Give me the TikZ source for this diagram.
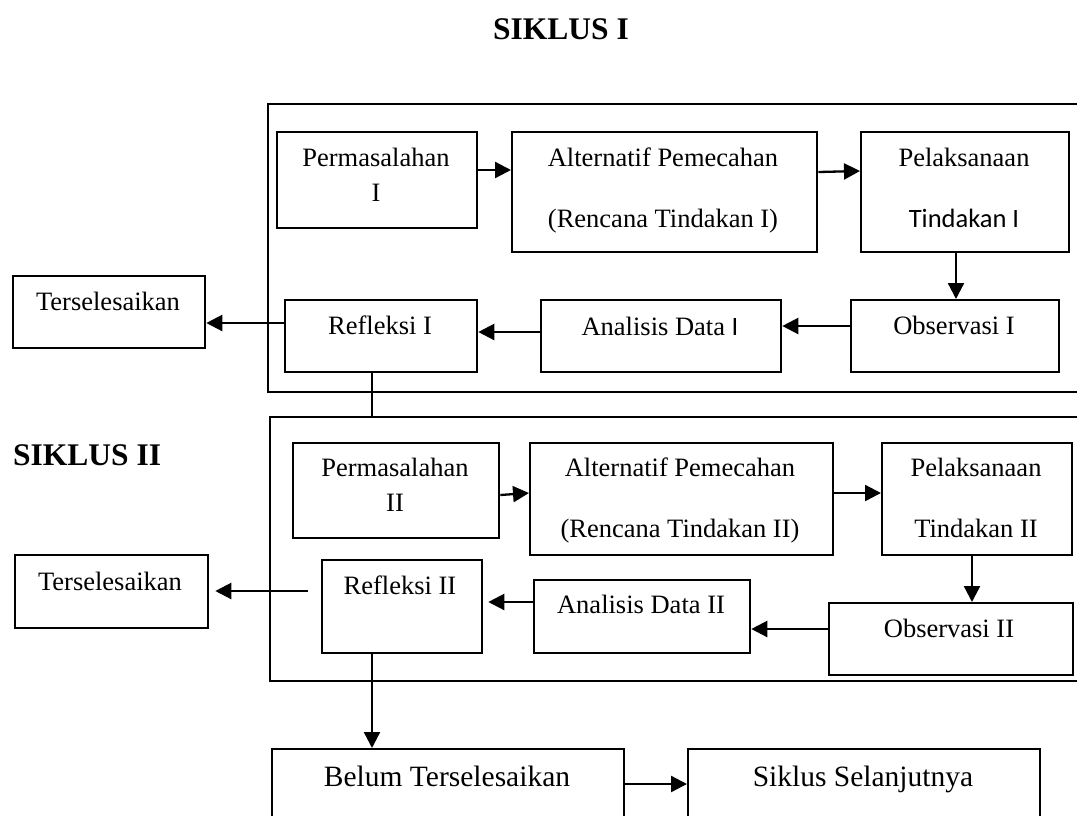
\documentclass[tikz,border=0pt]{standalone}
\usepackage{fontspec}
\setmainfont{Liberation Serif}
\newfontfamily\calibrifont{Carlito}
\usetikzlibrary{arrows.meta}

\tikzset{
  box/.style={draw, line width=2.3pt, inner sep=0pt, anchor=north west},
  txt/.style={inner sep=0pt, anchor=base, align=center, font=\fontsize{26.5}{35}\selectfont},
  bigtxt/.style={txt, font=\fontsize{29.5}{35}\selectfont},
  heading/.style={inner sep=0pt, anchor=base, font=\fontsize{31.5}{38}\selectfont\bfseries},
  link/.style={line width=2.3pt, ->},
}

\begin{document}
\begin{tikzpicture}[x=1pt, y=-1pt, >={Triangle[length=16pt,width=16pt]}]
   \useasboundingbox (0,0) rectangle (1077,815);

   % siklus I
   \node[heading] (head1) at (561,39) {SIKLUS I};
   \draw[line width=2.3pt] (1080,104) -- (268,104) -- (268,392) -- (1080,392);

   \node[box, minimum width=200, minimum height=96] (perm1) at (276,131) {};
   \node[box, minimum width=305, minimum height=120] (alt1) at (511,131) {};
   \node[box, minimum width=208, minimum height=120] (pel1) at (860,131) {};
   \node[box, minimum width=192, minimum height=72] (tsl1) at (12,275) {};
   \node[box, minimum width=192, minimum height=72] (refl1) at (284,299) {};
   \node[box, minimum width=240, minimum height=72] (ana1) at (540,299) {};
   \node[box, minimum width=208, minimum height=72] (obs1) at (850,299) {};

   % base = last line
   \node[txt] (perm1-t) at (376,201) {Permasalahan\\I};
   \node[txt] (alt1-t) at (663,227) {Alternatif Pemecahan\\[26pt](Rencana Tindakan I)};
   \node[txt] (pel1-t) at (964,227) {Pelaksanaan\\[26pt]{\calibrifont Tindakan I}};
   \node[txt] (tsl1-t) at (108,310) {Terselesaikan};
   \node[txt] (refl1-t) at (380,334) {Refleksi I};
   \node[txt] (ana1-t) at (660,335) {Analisis Data {\calibrifont I}};
   \node[txt] (obs1-t) at (954,334) {Observasi I};

   \draw[link] (perm1.east |- 0,170) -- (alt1.west |- 0,170);
   \draw[link] (alt1.east |- 0,172) -- (pel1.west |- 0,171);
   \draw[link] (pel1.south -| 956,0) -- (obs1.north -| 956,0);
   \draw[link] (obs1.west |- 0,326) -- (ana1.east |- 0,326);
   \draw[link] (ana1.west |- 0,332) -- (refl1.east |- 0,332);
   \draw[link] (refl1.west |- 0,323) -- (tsl1.east |- 0,323);

   % siklus II
   \node[heading, anchor=base west] (head2) at (13,465) {SIKLUS II};
   \draw[line width=2.3pt] (1080,417) -- (270,417) -- (270,681) -- (1080,681);
   \coordinate (frame2) at (270,417);
   \draw[line width=2.3pt] (refl1.south -| 372,0) -- (frame2 -| 372,0);

   \node[box, minimum width=206, minimum height=95] (perm2) at (292,442) {};
   \node[box, minimum width=303, minimum height=112] (alt2) at (529,442) {};
   \node[box, minimum width=190, minimum height=112] (pel2) at (881,442) {};
   \node[box, minimum width=193, minimum height=73] (tsl2) at (14,554) {};
   \node[box, minimum width=160, minimum height=93] (refl2) at (321,559) {};
   \node[box, minimum width=216, minimum height=73] (ana2) at (533,579) {};
   \node[box, minimum width=244, minimum height=72] (obs2) at (828,602) {};

   \node[txt] (perm2-t) at (395,511) {Permasalahan\\II};
   \node[txt] (alt2-t) at (680,537) {Alternatif Pemecahan\\[26pt](Rencana Tindakan II)};
   \node[txt] (pel2-t) at (976,537) {Pelaksanaan\\[26pt]Tindakan II};
   \node[txt] (tsl2-t) at (110,590) {Terselesaikan};
   \node[txt] (refl2-t) at (400,594) {Refleksi II};
   \node[txt] (ana2-t) at (641,613) {Analisis Data II};
   \node[txt] (obs2-t) at (949,637) {Observasi II};

   \coordinate (gap2) at ([xshift=-13pt]refl2.west);
   \draw[link] (perm2.east |- 0,495) -- (alt2.west |- 0,493);
   \draw[link] (alt2.east |- 0,493) -- (pel2.west |- 0,493);
   \draw[link] (pel2.south -| 972,0) -- (obs2.north -| 972,0);
   \draw[link] (obs2.west |- 0,629) -- (ana2.east |- 0,629);
   \draw[link, shorten >=5pt] (ana2.west |- 0,602) -- (refl2.east |- 0,602);
   \draw[link, shorten >=6pt] (gap2 |- 0,591) -- (tsl2.east |- 0,591);

   % lanjutan
   \node[box, minimum width=352, minimum height=90] (belum) at (271,748) {};
   \node[box, minimum width=352, minimum height=90] (lanjut) at (687,748) {};
   \node[bigtxt] (belum-t) at (447,786) {Belum Terselesaikan};
   \node[bigtxt] (lanjut-t) at (863,786) {Siklus Selanjutnya};

   \draw[link] (refl2.south -| 372,0) -- (belum.north -| 372,0);
   \draw[link] (belum.east |- 0,784) -- (lanjut.west |- 0,784);
\end{tikzpicture}
\end{document}
